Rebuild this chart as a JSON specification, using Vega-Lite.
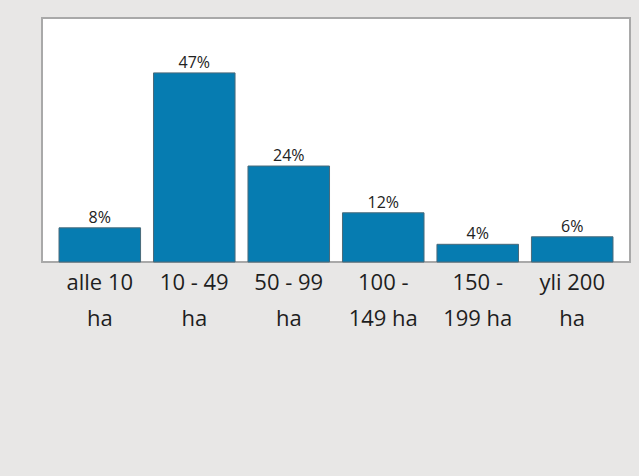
{
  "$schema": "https://vega.github.io/schema/vega-lite/v6.json",
  "autosize": {"type": "none"},
  "padding": {"left": 42, "top": 18, "right": 9, "bottom": 214},
  "width": 588,
  "height": 244,
  "background": "#e8e7e6",
  "config": {
    "view": {"fill": "#ffffff", "stroke": "#a9a9a9", "strokeWidth": 2},
    "font": "Open Sans"
  },
  "data": {
    "values": [
      {"luokka": "alle 10\nha", "osuus": 8.4, "teksti": "8%"},
      {"luokka": "10 - 49\nha", "osuus": 46.5, "teksti": "47%"},
      {"luokka": "50 - 99\nha", "osuus": 23.6, "teksti": "24%"},
      {"luokka": "100 -\n149 ha", "osuus": 12.1, "teksti": "12%"},
      {"luokka": "150 -\n199 ha", "osuus": 4.35, "teksti": "4%"},
      {"luokka": "yli 200\nha", "osuus": 6.2, "teksti": "6%"}
    ]
  },
  "encoding": {
    "x": {
      "field": "luokka",
      "type": "nominal",
      "sort": null,
      "scale": {"paddingInner": 0.137, "paddingOuter": 0.18},
      "axis": {
        "title": null,
        "labelAngle": 0,
        "labelExpr": "split(datum.value, '\\n')",
        "labelFontSize": 22,
        "labelLineHeight": 36,
        "labelColor": "#1e1e1e",
        "labelPadding": 10,
        "labelLimit": 200,
        "ticks": false,
        "domain": false
      }
    },
    "y": {
      "field": "osuus",
      "type": "quantitative",
      "scale": {"domain": [0, 60]},
      "axis": null
    }
  },
  "layer": [
    {
      "mark": {"type": "bar", "fill": "#067cb1", "stroke": "#4a6a7a", "strokeWidth": 1}
    },
    {
      "mark": {"type": "text", "baseline": "alphabetic", "dy": -5, "fontSize": 16, "color": "#222222"},
      "encoding": {"text": {"field": "teksti"}}
    }
  ]
}
